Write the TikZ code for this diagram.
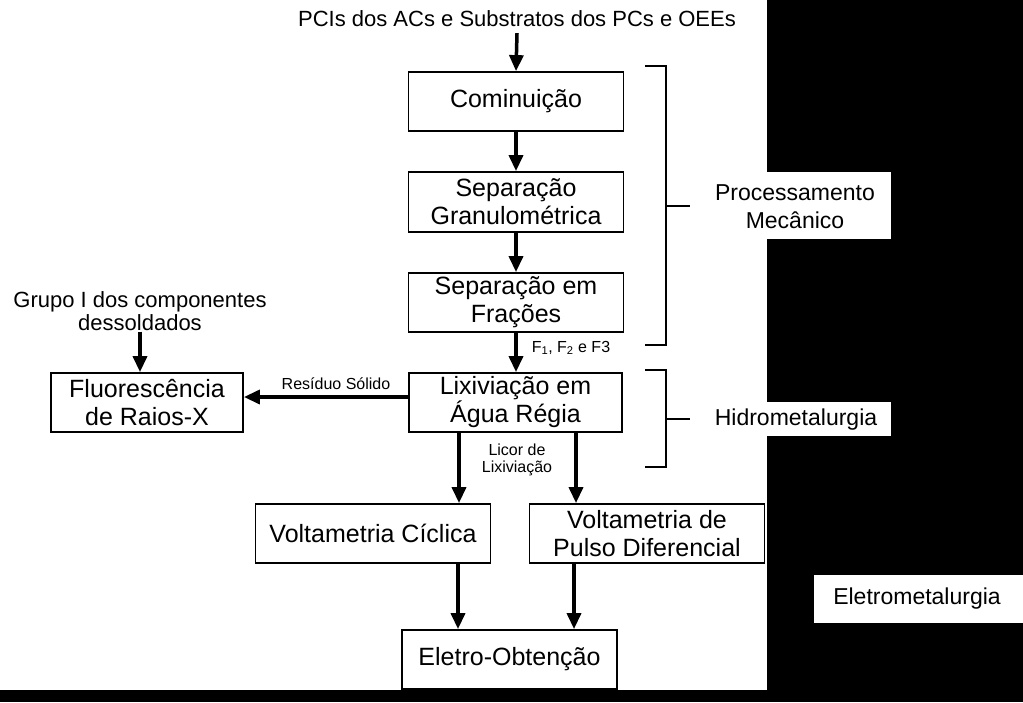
\documentclass[tikz,border=0pt]{standalone}
\usepackage{fontspec}
\setmainfont{Liberation Sans}
\usetikzlibrary{arrows.meta}

\begin{document}
\begin{tikzpicture}[x=1pt, y=-1pt, line width=2.2pt,
    >={Triangle[width=14pt,length=16pt]},
    etapa/.style={rectangle, draw, line width=1.8pt, minimum width=215pt,
      minimum height=59pt, inner sep=0pt, align=center,
      font=\fontsize{25}{28}\selectfont},
    rotulo/.style={align=center, inner sep=0pt, font=\fontsize{16}{17.5}\selectfont},
    grupo/.style={align=center, inner sep=0pt, font=\fontsize{23}{28}\selectfont}]
  \useasboundingbox (0,0) rectangle (1023,702);
  \fill[black] (0,0) rectangle (1023,702);
  \fill[white] (0,0) rectangle (767,690);

  % etapas
  \node[inner sep=0pt, font=\fontsize{22}{24}\selectfont]
    (entrada) at (517,19) {PCIs dos ACs e Substratos dos PCs e OEEs};
  \node[etapa] (com) at (516,101.5) {Cominuição};
  \node[etapa, minimum height=60pt] (gran) at (516,202) {Separação\\Granulométrica};
  \node[etapa] (frac) at (516,302.5) {Separação em\\Frações};
  \node[etapa, minimum width=213pt] (lix) at (515.5,402.5) {Lixiviação em\\Água Régia};
  \node[etapa, minimum width=192pt] (fluor) at (147,402.5) {Fluorescência\\de Raios-X};
  \node[inner sep=0pt, align=center, font=\fontsize{22}{23}\selectfont]
    (comp) at (140,311) {Grupo I dos componentes\\dessoldados};
  \node[etapa, minimum width=235pt] (vc) at (373,533.5) {Voltametria Cíclica};
  \node[etapa, minimum width=235pt] (vpd) at (647,533.5) {Voltametria de\\Pulso Diferencial};
  \node[etapa, minimum width=215pt] (eo) at (509.5,659.5) {Eletro-Obtenção};

  % rotulos
  \node[rotulo] (fracoes) at (571,348) {F\textsubscript{1}, F\textsubscript{2} e F3};
  \node[rotulo] (residuo) at (336,384) {Resíduo Sólido};
  \node[rotulo] (licor) at (517,460) {Licor de\\Lixiviação};

  \draw[line width=3.5pt]
    (entrada.south) ++(0,5) edge[->] (com.north)
    (com) edge[->] (gran)
    (gran) edge[->] (frac)
    (frac.south) edge[->] (frac.south |- lix.north)
    (comp.south) edge[->] (comp.south |- fluor.north)
    (lix.west |- 0,397) edge[->] (fluor.east |- 0,397)
    (lix.south -| 459,0) edge[->] (vc.north -| 459,0)
    (lix.south -| 576,0) edge[->] (vpd.north -| 576,0)
    (vc.south -| 458,0) edge[->] (eo.north -| 458,0)
    (vpd.south -| 574,0) edge[->] (eo.north -| 574,0)
    ;

  % chaves
  \draw
    (645,66) -- (666,66) -- (666,345) -- (645,345)
    (666,206) -- (690,206)
    (645,370) -- (666,370) -- (666,467) -- (645,467)
    (666,419) -- (690,419)
    ;
  \fill[white] (700,172) rectangle (891,239);
  \fill[white] (700,402) rectangle (891,436);
  \fill[white] (814,575) rectangle (1023,623);
  \node[grupo] (mec) at (795,207) {Processamento\\Mecânico};
  \node[grupo] (hidro) at (796,420) {Hidrometalurgia};
  \node[grupo] (eletro) at (917,599) {Eletrometalurgia};
\end{tikzpicture}
\end{document}
